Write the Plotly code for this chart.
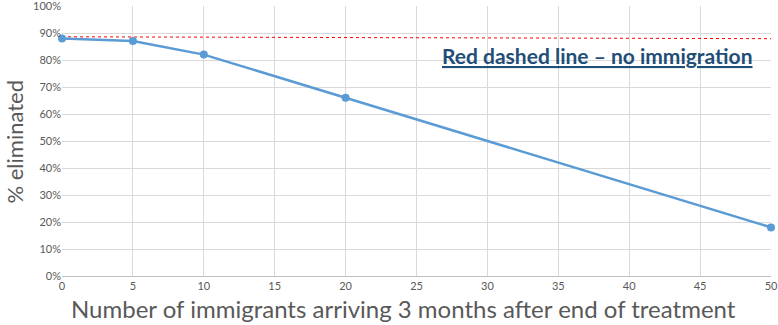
import plotly.graph_objects as go

immigrants = [0, 5, 10, 20, 50]
pct_eliminated = [88, 87, 82, 66, 18]
baseline_x = [0, 50]
baseline_y = [88.6, 87.9]
x_ticks = [0, 5, 10, 15, 20, 25, 30, 35, 40, 45, 50]
y_ticks = [0, 10, 20, 30, 40, 50, 60, 70, 80, 90, 100]

fig = go.Figure()
fig.add_trace(go.Scatter(x=baseline_x, y=baseline_y, mode="lines",
                         line=dict(color="#FF0000", width=1, dash="dot"),
                         hoverinfo="skip", showlegend=False, cliponaxis=False))
fig.add_trace(go.Scatter(x=immigrants, y=pct_eliminated, mode="lines+markers",
                         line=dict(color="#5B9BD5", width=2.5),
                         marker=dict(color="#5B9BD5", size=8), showlegend=False,
                         cliponaxis=False))

fig.add_annotation(x=0.533, y=0.818, xref="paper", yref="paper", xanchor="left", yanchor="middle",
                   text="<b><u>Red dashed line – no immigration</u></b>", showarrow=False,
                   font=dict(family="Lato, Open Sans, sans-serif", size=21, color="#1F4E79"))
fig.add_annotation(x=0.481, y=-0.122, xref="paper", yref="paper", xanchor="center", yanchor="middle",
                   text="Number of immigrants arriving 3 months after end of treatment", showarrow=False,
                   font=dict(family="Lato, Open Sans, sans-serif", size=24, color="#595959"))
fig.add_annotation(x=-0.0663, y=0.498, xref="paper", yref="paper", xanchor="center", yanchor="middle",
                   text="% eliminated", showarrow=False, textangle=-90, borderpad=0,
                   font=dict(family="Lato, Open Sans, sans-serif", size=22, color="#595959"))

fig.update_layout(
    width=778, height=325,
    margin=dict(l=62, r=7, t=6, b=49, autoexpand=False),
    paper_bgcolor="white", plot_bgcolor="white",
    font=dict(family="Lato, Open Sans, sans-serif", color="#595959"),
)
fig.update_xaxes(range=[0, 50], tickvals=x_ticks, ticktext=[str(v) for v in x_ticks],
                 showgrid=True, gridcolor="#D9D9D9", gridwidth=1,
                 showline=True, linecolor="#BFBFBF", linewidth=1, zeroline=False,
                 ticks="", tickfont=dict(size=11, color="#595959"),
                 ticklabeloverflow="allow", automargin=False)
fig.update_yaxes(range=[0, 100], tickvals=y_ticks, ticktext=[f"{v}%" for v in y_ticks],
                 showgrid=True, gridcolor="#D9D9D9", gridwidth=1,
                 showline=False, zeroline=False, ticks="",
                 tickfont=dict(size=11, color="#595959"),
                 ticklabeloverflow="allow", automargin=False)

fig.write_html("out.html", config={"displayModeBar": False},
               post_script="document.body.style.margin='0';")
